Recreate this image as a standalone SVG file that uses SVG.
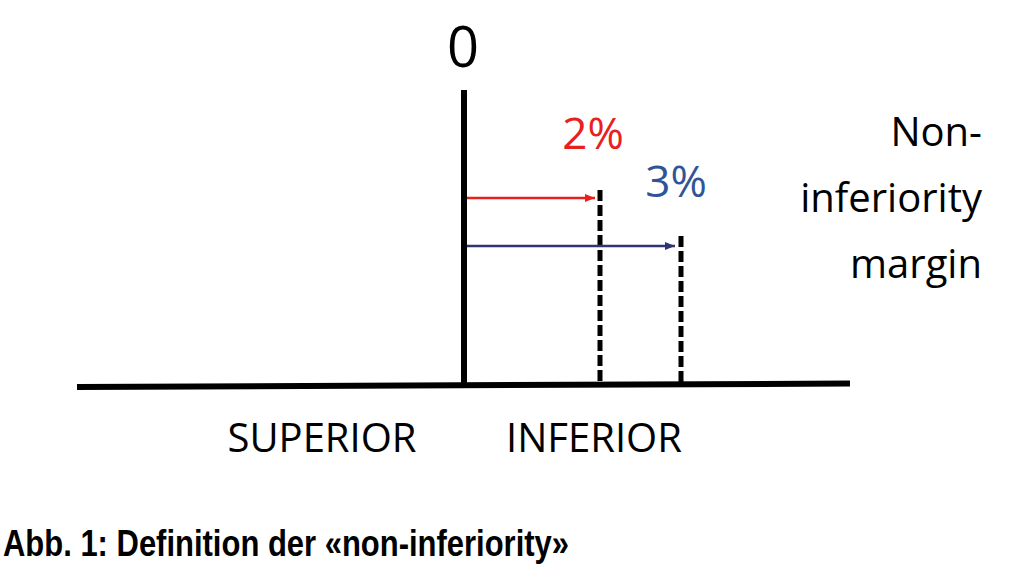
<svg xmlns="http://www.w3.org/2000/svg" width="1024" height="581" viewBox="0 0 1024 581">
<style>
.lbl{font-family:"Open Sans","Liberation Sans",sans-serif;fill:#000}
.dash{stroke:#000;stroke-width:5;stroke-dasharray:11 4;fill:none}
.cap{font-family:"Liberation Sans",Arial,sans-serif;font-weight:bold;fill:#000}
</style>
<defs>
<marker id="ahR" viewBox="0 0 10 8" refX="10" refY="4" markerWidth="10" markerHeight="8" markerUnits="userSpaceOnUse" orient="auto"><path d="M0,0 L10,4 L0,8 Z" fill="#E8211E"/></marker>
<marker id="ahB" viewBox="0 0 10 8" refX="10" refY="4" markerWidth="10" markerHeight="8" markerUnits="userSpaceOnUse" orient="auto"><path d="M0,0 L10,4 L0,8 Z" fill="#2E3570"/></marker>
</defs>
<rect width="1024" height="581" fill="#fff"/>
<g id="axes">
<line x1="77" y1="387" x2="850" y2="383.5" stroke="#000" stroke-width="6"/>
<line x1="464" y1="90" x2="464" y2="386" stroke="#000" stroke-width="6"/>
</g>
<g id="margins">
<line class="dash" x1="600" y1="190" x2="600" y2="385"/>
<line class="dash" x1="681" y1="236" x2="681" y2="385"/>
</g>
<g id="connectors">
<line x1="467" y1="198" x2="595" y2="198" stroke="#E8211E" stroke-width="2.5" marker-end="url(#ahR)"/>
<line x1="467" y1="246" x2="675" y2="246" stroke="#2E3570" stroke-width="2.5" marker-end="url(#ahB)"/>
</g>
<g id="labels">
<text class="lbl" x="463" y="67" font-size="56" text-anchor="middle">0</text>
<text class="lbl" x="593" y="149" font-size="44" text-anchor="middle" style="fill:#E8211E">2%</text>
<text class="lbl" x="676" y="197" font-size="44" text-anchor="middle" style="fill:#2F5597">3%</text>
<text class="lbl" x="982" y="146" font-size="40" text-anchor="end">Non-</text>
<text class="lbl" x="982" y="212" font-size="40" text-anchor="end">inferiority</text>
<text class="lbl" x="982" y="278" font-size="40" text-anchor="end">margin</text>
<text class="lbl" x="322" y="452" font-size="40" text-anchor="middle">SUPERIOR</text>
<text class="lbl" x="594" y="452" font-size="40" text-anchor="middle">INFERIOR</text>
</g>
<g id="caption">
<text class="cap" x="3" y="556" font-size="36" textLength="566" lengthAdjust="spacingAndGlyphs">Abb. 1: Definition der «non-inferiority»</text>
</g>
</svg>
